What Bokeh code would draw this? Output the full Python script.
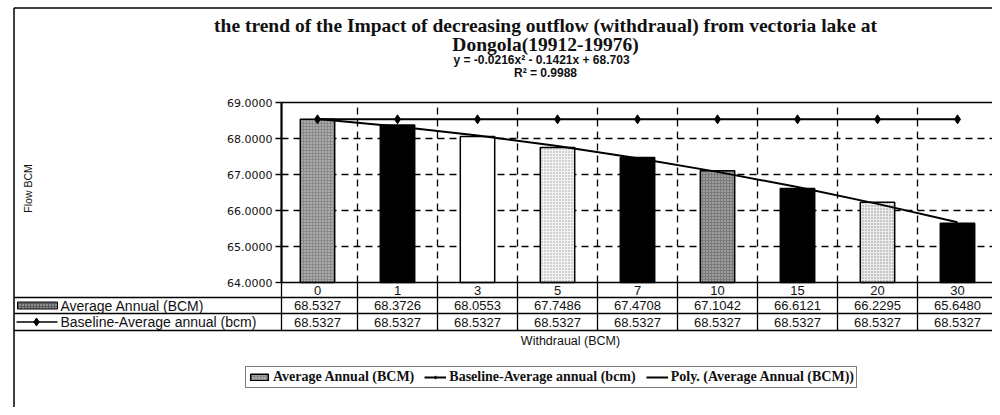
import math
from bokeh.plotting import figure
from bokeh.models import Range1d, ColumnDataSource, Legend, LegendItem
from bokeh.embed import file_html
from bokeh.resources import INLINE
from bokeh.core.properties import value

# ---------------- data ----------------
categories = ["0", "1", "3", "5", "7", "10", "15", "20", "30"]
average_annual = [68.5327, 68.3726, 68.0553, 67.7486, 67.4708, 67.1042, 66.6121, 66.2295, 65.6480]
baseline_annual = [68.5327, 68.5327, 68.5327, 68.5327, 68.5327, 68.5327, 68.5327, 68.5327, 68.5327]
poly_trend = [68.539, 68.332, 68.082, 67.789, 67.453, 67.073, 66.650, 66.184, 65.675]
y_ticks = [64, 65, 66, 67, 68, 69]
title_line1 = "the trend of the Impact of decreasing outflow (withdraual) from vectoria lake at"
title_line2 = "Dongola(19912-19976)"
equation_text = "y = -0.0216x² - 0.1421x + 68.703"
r2_text = "R² = 0.9988"
series_names = ["Average Annual (BCM)", "Baseline-Average annual (bcm)", "Poly. (Average Annual (BCM))"]
x_title = "Withdraual (BCM)"
y_title = "Flow BCM"

# ---------------- styles ----------------
bar_fills = ["#8a8a8a", "#000000", "#ffffff", "#f3f3f3", "#000000", "#7a7a7a", "#000000", "#ececec", "#000000"]
bar_hatch = [".", " ", " ", ".", " ", ".", " ", ".", " "]
bar_hatch_col = ["#dcdcdc", "#000000", "#000000", "#9a9a9a", "#000000", "#d4d4d4", "#000000", "#8a8a8a", "#000000"]
INK = "#111111"

# ---------------- layout geometry (pixels from the picture's top-left) ----------------
W, H = 992, 407
FRAME_L, FRAME_R = 281, 1000
CAT0, COL_W = 317, 80          # centre of first category, category width
Y_TOP, Y_BOT = 102, 282        # y of the axis max / min
VMIN, VMAX = y_ticks[0], y_ticks[-1]
PPU = (Y_BOT - Y_TOP) / (VMAX - VMIN)
ROWS = [282, 297, 313, 330]    # data-table rules
LEFT, TOP = 13.5, 7.5          # outer chart border


def cat(X):
    return (X - CAT0) / COL_W


def val(Y):
    return VMIN + (Y_BOT - Y) / PPU


n = len(categories)
idx = list(range(n))

src = ColumnDataSource(dict(
    x=idx, cat=categories, avg=average_annual, base=baseline_annual, trend=poly_trend,
    fill=bar_fills, hatch=bar_hatch, hcol=bar_hatch_col,
    avg_txt=[f"{v:.4f}" for v in average_annual],
    base_txt=[f"{v:.4f}" for v in baseline_annual],
))

p = figure(width=W, height=H,
           x_range=Range1d(cat(0), cat(W)),
           y_range=Range1d(val(H), val(0)),
           x_axis_location=None, y_axis_location=None,
           output_backend="svg", toolbar_location=None,
           min_border_left=0, min_border_right=0, min_border_top=0, min_border_bottom=0)
p.extra_x_ranges = {"px": Range1d(0, W)}
p.extra_y_ranges = {"py": Range1d(H, 0)}
p.outline_line_color = None
p.background_fill_color = "white"
p.border_fill_color = "white"
for g in p.grid:
    g.visible = False

# outer chart border
p.segment(x0=[LEFT, LEFT], y0=[TOP, TOP], x1=[LEFT, W], y1=[H, TOP],
          x_range_name="px", y_range_name="py", line_color="black", line_width=1.5)

# dashed grid
gy = y_ticks[1:-1]
p.segment(x0=[FRAME_L] * len(gy), y0=gy, x1=[FRAME_R] * len(gy), y1=gy, x_range_name="px",
          line_color="black", line_width=1.3, line_dash="7 5")
gx = [i + 0.5 for i in idx]
p.segment(x0=gx, y0=[VMIN] * len(gx), x1=gx, y1=[VMAX] * len(gx),
          line_color="black", line_width=1.3, line_dash="7 5")

# series
bars = p.vbar(x="x", top="avg", bottom=VMIN, width=0.43, source=src, fill_color="fill",
              line_color="black", line_width=1.5, hatch_pattern="hatch", hatch_color="hcol",
              hatch_scale=3, hatch_weight=1)
trend = p.line("x", "trend", source=src, line_color="black", line_width=2)
base_line = p.line("x", "base", source=src, line_color="black", line_width=2)
base_pts = p.scatter("x", "base", source=src, marker="diamond", size=9, color="black")

# plot-area frame and value axis
p.segment(x0=[FRAME_L, FRAME_L], y0=[VMAX, VMIN], x1=[FRAME_R, FRAME_R], y1=[VMAX, VMIN],
          x_range_name="px", line_color="black", line_width=1.6)
p.segment(x0=[FRAME_L], y0=[VMIN], x1=[FRAME_L], y1=[VMAX], x_range_name="px",
          line_color="black", line_width=2.2)
p.segment(x0=[FRAME_L - 6] * len(y_ticks), y0=y_ticks, x1=[FRAME_L] * len(y_ticks), y1=y_ticks,
          x_range_name="px", line_color="black", line_width=1.3)
p.text(x=[FRAME_L - 9] * len(y_ticks), y=y_ticks, text=[f"{v:.4f}" for v in y_ticks],
       x_range_name="px", text_font=value("DejaVu Sans"), text_font_size="11px",
       text_color=INK, text_align="right", text_baseline="middle")
p.text(x=[27], y=[188], text=[y_title], angle=math.pi / 2, x_range_name="px", y_range_name="py",
       text_font=value("Liberation Sans"), text_font_size="10.5px", text_color=INK,
       text_align="center", text_baseline="middle")

# titles
p.text(x=[545, 545], y=[25, 44], text=[title_line1, title_line2], x_range_name="px",
       y_range_name="py", text_font=value("Liberation Serif"), text_font_style="bold",
       text_font_size="19.5px", text_color=INK, text_align="center", text_baseline="middle")
p.text(x=[541, 545], y=[59, 72], text=[equation_text, r2_text], x_range_name="px",
       y_range_name="py", text_font=value("Liberation Sans"), text_font_style="bold",
       text_font_size="12px", text_color=INK, text_align="center", text_baseline="middle")

# ---------------- data table ----------------
vx = [i + 0.5 for i in range(n)]
p.segment(x0=vx, y0=[ROWS[0]] * len(vx), x1=vx, y1=[ROWS[-1]] * len(vx), y_range_name="py",
          line_color="black", line_width=1.3)
p.segment(x0=[FRAME_L], y0=[ROWS[0]], x1=[FRAME_L], y1=[ROWS[-1]], x_range_name="px",
          y_range_name="py", line_color="black", line_width=1.3)
hr = ROWS[1:]
p.segment(x0=[LEFT] * len(hr), y0=hr, x1=[FRAME_R] * len(hr), y1=hr, x_range_name="px",
          y_range_name="py", line_color="black", line_width=1.3)

tf = dict(text_font=value("Liberation Sans"), text_font_size="13px", text_color=INK,
          text_align="center", text_baseline="middle")
rc = [(ROWS[i] + ROWS[i + 1]) / 2 for i in range(3)]
p.text(x="x", y=rc[0], text="cat", source=src, y_range_name="py", **tf)
p.text(x="x", y=rc[1], text="avg_txt", source=src, y_range_name="py", **tf)
p.text(x="x", y=rc[2], text="base_txt", source=src, y_range_name="py", **tf)

lf = dict(tf)
lf["text_align"] = "left"
lf["text_font_size"] = "14px"
p.text(x=[60, 60], y=[rc[1], rc[2]], text=series_names[:2], x_range_name="px", y_range_name="py", **lf)
p.quad(left=[17], right=[57], top=[rc[1] - 3.5], bottom=[rc[1] + 3.5], x_range_name="px",
       y_range_name="py", fill_color="#5a5a5a", line_color="black", line_width=1,
       hatch_pattern=".", hatch_color="#dddddd", hatch_scale=3)
p.segment(x0=[16], y0=[rc[2]], x1=[57], y1=[rc[2]], x_range_name="px", y_range_name="py",
          line_color="black", line_width=1.5)
p.scatter(x=[36], y=[rc[2]], marker="diamond", size=8, color="black", x_range_name="px",
          y_range_name="py")

xt = dict(tf)
xt["text_font_size"] = "12.5px"
p.text(x=[570], y=[340], text=[x_title], x_range_name="px", y_range_name="py", **xt)

# ---------------- legend ----------------
legend = Legend(items=[LegendItem(label=series_names[0], renderers=[bars], index=0),
                       LegendItem(label=series_names[1], renderers=[base_line, base_pts], index=0),
                       LegendItem(label=series_names[2], renderers=[trend], index=0)],
                location=(245, H - 388), orientation="horizontal",
                label_text_font="Liberation Serif", label_text_font_size="14px",
                label_text_font_style="bold", label_text_color=INK,
                border_line_color="black", border_line_width=1.2, background_fill_color="white",
                background_fill_alpha=1.0, padding=2, spacing=10, margin=0,
                glyph_width=22, glyph_height=8, label_standoff=3, label_height=14)
p.add_layout(legend)

open("out.html", "w").write(file_html(p, INLINE))
